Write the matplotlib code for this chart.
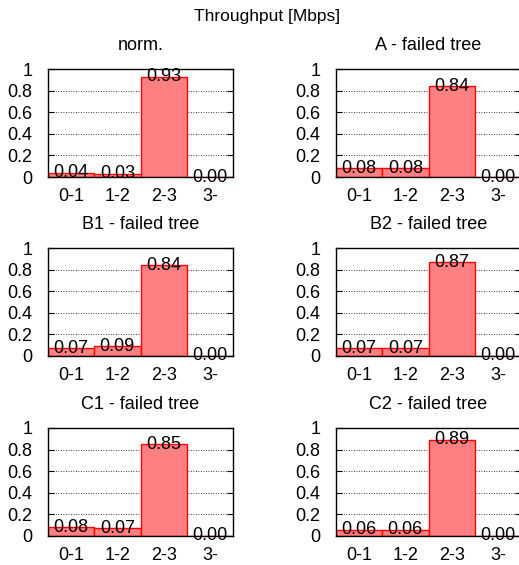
import matplotlib
matplotlib.use("Agg")
import matplotlib.pyplot as plt
import numpy as np

plt.rcParams["font.family"] = ["Liberation Sans", "DejaVu Sans"]
plt.rcParams["font.size"] = 13

hops = ["0-1", "1-2", "2-3", "3-"]
titles = ["norm.", "A - failed tree",
          "B1 - failed tree", "B2 - failed tree",
          "C1 - failed tree", "C2 - failed tree"]
norm = [0.04, 0.03, 0.93, 0.00]
fail_a = [0.08, 0.08, 0.84, 0.00]
fail_b1 = [0.07, 0.09, 0.84, 0.00]
fail_b2 = [0.07, 0.07, 0.87, 0.00]
fail_c1 = [0.08, 0.07, 0.85, 0.00]
fail_c2 = [0.06, 0.06, 0.89, 0.00]
series = [norm, fail_a, fail_b1, fail_b2, fail_c1, fail_c2]

W, H = 519, 565
fig = plt.figure(figsize=(W / 100, H / 100), dpi=100)

# panel boxes in pixels: left, top, width, height
col_x = [48, 336]
row_top = [69, 248, 428]
pw, ph = 185, 108

fig.text(267 / W, 1 - 16 / H, "Throughput [Mbps]", ha="center", va="center",
         fontsize=12.5)

x = np.arange(len(hops))
for i, (title, vals) in enumerate(zip(titles, series)):
    r, c = divmod(i, 2)
    ax = fig.add_axes([col_x[c] / W, 1 - (row_top[r] + ph) / H, pw / W, ph / H])
    ax.bar(x, vals, width=1.0, color="#ff8080", edgecolor="#ff0000",
           linewidth=1.0, zorder=2)
    for xi, v in zip(x, vals):
        ax.text(xi, v, f"{v:.2f}", ha="center", va="center", zorder=4,
                fontsize=13)
    ax.set_xlim(-0.5, len(hops) - 0.5)
    ax.set_ylim(0, 1)
    ax.set_yticks(np.arange(0, 1.01, 0.2))
    ax.set_yticklabels(["0", "0.2", "0.4", "0.6", "0.8", "1"])
    ax.set_xticks(x)
    ax.set_xticklabels(hops)
    ax.tick_params(axis="x", length=0, pad=8, labelsize=13)
    ax.tick_params(axis="y", direction="in", length=4, width=0.8,
                   right=True, pad=11, labelsize=13)
    ax.yaxis.grid(True, linestyle=(0, (1, 2)), color="black", linewidth=0.6,
                  zorder=0)
    ax.set_axisbelow(True)
    for s in ax.spines.values():
        s.set_linewidth(1.0)
        s.set_zorder(3)
    ax.set_title(title, pad=14, fontsize=13)

fig.savefig("out.png", dpi=100)
